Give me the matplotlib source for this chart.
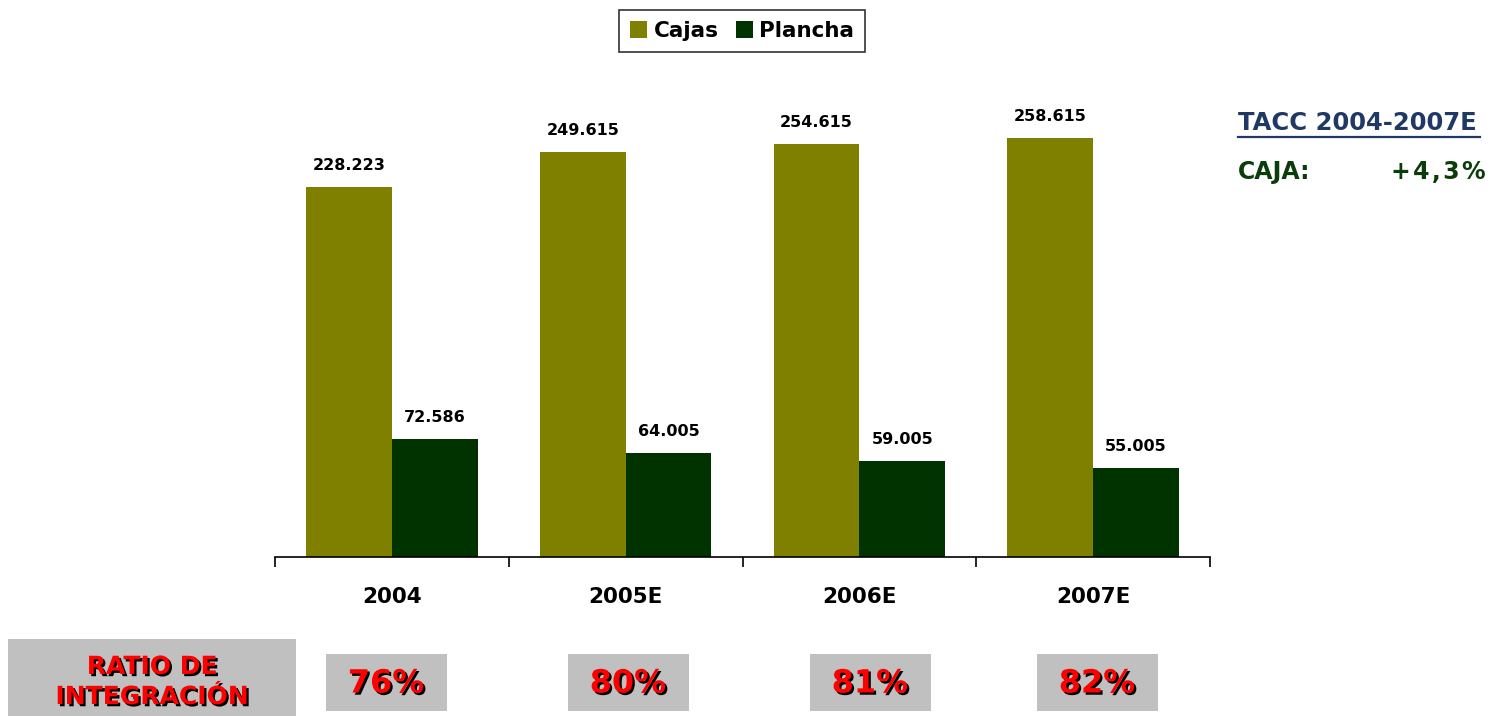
import matplotlib.pyplot as plt
import matplotlib.patheffects as pe
from matplotlib.patches import Rectangle
from matplotlib.lines import Line2D
import numpy as np

years = ['2004', '2005E', '2006E', '2007E']
cajas = [228223, 249615, 254615, 258615]
plancha = [72586, 64005, 59005, 55005]
ratio = ['76%', '80%', '81%', '82%']

c_cajas = '#808000'
c_plancha = '#003300'

def fmt(v):
    return f"{v:,}".replace(',', '.')

plt.rcParams['font.family'] = 'DejaVu Sans'
plt.rcParams['font.weight'] = 'bold'

fig = plt.figure(figsize=(14.92, 7.16), dpi=100)
W, H = 1492, 716
ax = fig.add_axes([275 / W, 1 - 557 / H, 935 / W, 477 / H])

x = np.arange(len(years)) + 0.5
w = 0.367
b1 = ax.bar(x - w / 2, cajas, w, color=c_cajas, label='Cajas')
b2 = ax.bar(x + w / 2, plancha, w, color=c_plancha, label='Plancha')

for bars, vals in [(b1, cajas), (b2, plancha)]:
    for r, v in zip(bars, vals):
        ax.annotate(fmt(v), (r.get_x() + r.get_width() / 2, v),
                    xytext=(0, 10), textcoords='offset points',
                    ha='center', va='bottom', fontsize=11.5, fontweight='bold')

ax.set_xlim(0, 4)
ax.set_ylim(0, 294260)
for s in ['top', 'right', 'left']:
    ax.spines[s].set_visible(False)
ax.spines['bottom'].set_linewidth(1.2)
ax.set_yticks([])
ax.set_xticks([0, 1, 2, 3, 4])
ax.set_xticklabels([])
ax.tick_params(axis='x', direction='out', length=7, width=1.2)
for xi, yr in zip(x, years):
    ax.text(xi, -40 / 477 * 294260, yr, ha='center', va='center',
            fontsize=15.5, fontweight='bold')

leg = fig.legend(handles=[b1, b2], loc='upper center', bbox_to_anchor=(742 / W, 1 - 10 / H),
                 ncol=2, frameon=True, fancybox=False, fontsize=15.5,
                 handlelength=0.8, handleheight=0.8, handletextpad=0.3,
                 columnspacing=0.8, borderpad=0.5, borderaxespad=0)
leg.get_frame().set_edgecolor('black')
leg.get_frame().set_linewidth(1.2)

# growth note on the right
fig.text(1238 / W, 1 - 123 / H, 'TACC 2004-2007E', color='#1F3864',
         fontsize=17.5, fontweight='bold', va='center', ha='left')
fig.add_artist(Line2D([1238 / W, 1480 / W], [1 - 137 / H, 1 - 137 / H],
                      color='#1F3864', lw=1.6))
fig.text(1238 / W, 1 - 172 / H, 'CAJA:', color='#0B3D0B',
         fontsize=17, fontweight='bold', va='center', ha='left')
fig.text(1486 / W, 1 - 172 / H, '+\u200a4\u200a,\u200a3\u200a%', color='#0B3D0B',
         fontsize=17, fontweight='bold', va='center', ha='right')

# integration ratio row
shadow = [pe.withSimplePatchShadow(offset=(1.6, -1.6), shadow_rgbFace='black', alpha=1)]
fig.add_artist(Rectangle((8 / W, 0), 288 / W, (716 - 639) / H,
                         transform=fig.transFigure, color='#C0C0C0', lw=0))
fig.text(152 / W, 1 - 682 / H, 'RATIO DE\nINTEGRACIÓN', color='red',
         fontsize=18, fontweight='bold', ha='center', va='center',
         linespacing=1.32, path_effects=shadow)

box_left = [326, 568, 810, 1037]
for bx, r in zip(box_left, ratio):
    fig.add_artist(Rectangle((bx / W, 1 - 711 / H), 121 / W, 57 / H,
                             transform=fig.transFigure, color='#C0C0C0', lw=0))
    fig.text((bx + 60) / W, 1 - 684 / H, r, color='red', fontsize=23,
             fontweight='bold', ha='center', va='center', path_effects=shadow)

fig.savefig('out.png', dpi=100)
